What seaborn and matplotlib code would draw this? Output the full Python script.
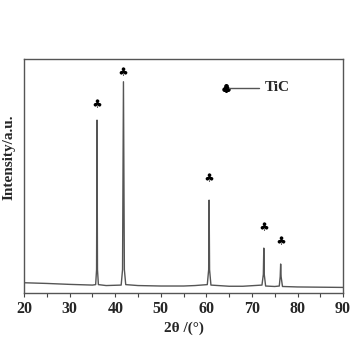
import matplotlib
matplotlib.use("Agg")
import matplotlib.pyplot as plt
import seaborn as sns
import pandas as pd
from matplotlib.ticker import MultipleLocator

# XRD pattern (2theta in degrees, intensity in a.u.)
two_theta = [20.0, 25.0, 30.0, 35.0, 35.7, 35.9, 36.0, 36.1, 36.3, 38.0, 41.3,
             41.6, 41.8, 42.0, 42.3, 45.0, 50.0, 55.0, 57.5, 60.2, 60.5, 60.6,
             60.7, 61.0, 65.0, 68.0, 72.2, 72.5, 72.6, 72.7, 73.0, 75.0, 76.0,
             76.2, 76.3, 76.4, 76.7, 80.0, 85.0, 90.0]
intensity = [0.044, 0.041, 0.037, 0.034, 0.036, 0.10, 0.739, 0.10, 0.036, 0.032, 0.034,
             0.10, 0.903, 0.10, 0.036, 0.032, 0.030, 0.030, 0.032, 0.036, 0.10, 0.397,
             0.10, 0.034, 0.029, 0.029, 0.034, 0.08, 0.192, 0.08, 0.030, 0.028, 0.030,
             0.07, 0.124, 0.07, 0.028, 0.026, 0.025, 0.024]

peak_pos = [36.0, 41.8, 60.6, 72.6, 76.3]
marker_y = [0.813, 0.949, 0.496, 0.286, 0.226]
legend_label = "TiC"

df = pd.DataFrame({"two_theta": two_theta, "intensity": intensity})
mk = pd.DataFrame({"x": peak_pos, "y": marker_y})

sns.set_theme(style="white")
plt.rcParams["font.family"] = ["Liberation Serif", "DejaVu Serif"]
plt.rcParams["font.weight"] = "bold"

fig, ax = plt.subplots(figsize=(3.6, 3.6), dpi=100)
fig.subplots_adjust(left=0.067, right=0.953, top=0.836, bottom=0.186)

sns.lineplot(data=df, x="two_theta", y="intensity", ax=ax, color="#555555",
             linewidth=1.0, estimator=None, sort=False)
sns.scatterplot(data=mk, x="x", y="y", ax=ax, marker="$\u2663$", color="black",
                s=36, linewidth=0, legend=False)

# legend-like annotation
ax.plot([64.3], [0.877], marker="$\u2663$", color="black", markersize=5.5, linestyle="none")
ax.plot([65.0, 71.6], [0.877, 0.877], color="#555555", linewidth=1.0)
ax.text(72.8, 0.877, legend_label, fontsize=11, fontweight="bold", va="center", ha="left")

ax.set_xlim(20, 90)
ax.set_ylim(0, 1)
ax.xaxis.set_major_locator(MultipleLocator(10))
ax.xaxis.set_minor_locator(MultipleLocator(5))
ax.set_yticks([])
ax.tick_params(axis="x", which="both", direction="out", length=3, width=0.8,
               color="#444444", bottom=True, labelsize=11.5, pad=3)
for lab in ax.get_xticklabels():
    lab.set_fontweight("bold")
for s in ax.spines.values():
    s.set_color("#555555")
    s.set_linewidth(1.0)

ax.set_xlabel("2\u03b8 /(\u00b0)", fontsize=11, fontweight="bold", labelpad=3)
ax.set_ylabel("Intensity/a.u.", fontsize=11, fontweight="bold")
ax.yaxis.set_label_coords(-0.027, 0.58)

fig.savefig("out.png", dpi=100)
